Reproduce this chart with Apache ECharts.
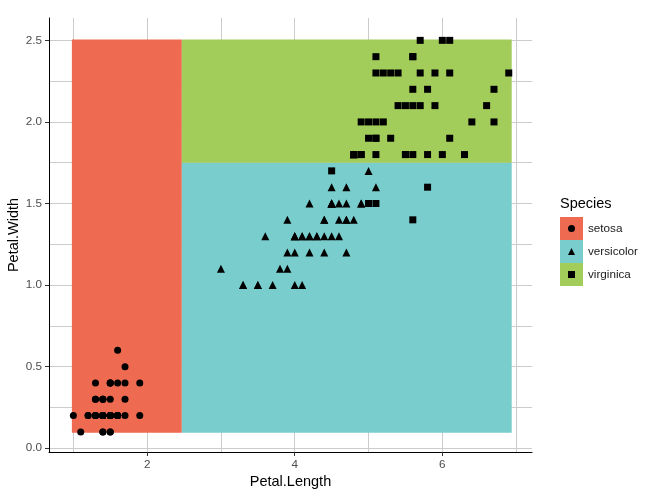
<!DOCTYPE html>
<html>
<head>
<meta charset="utf-8">
<script src="https://cdn.jsdelivr.net/npm/echarts@6/dist/echarts.min.js"></script>
<style>html,body{margin:0;padding:0;background:#fff;}#chart{width:653px;height:498px;}</style>
</head>
<body>
<div id="chart"></div>
<script>
// iris petal measurements, by species
const setosaLength=[1.4,1.4,1.3,1.5,1.4,1.7,1.4,1.5,1.4,1.5,1.5,1.6,1.4,1.1,1.2,1.5,1.3,1.4,1.7,1.5,1.7,1.5,1.0,1.7,1.9,1.6,1.6,1.5,1.4,1.6,1.6,1.5,1.5,1.4,1.5,1.2,1.3,1.4,1.3,1.5,1.3,1.3,1.3,1.6,1.9,1.4,1.6,1.4,1.5,1.4];
const setosaWidth=[0.2,0.2,0.2,0.2,0.2,0.4,0.3,0.2,0.2,0.1,0.2,0.2,0.1,0.1,0.2,0.4,0.4,0.3,0.3,0.3,0.2,0.4,0.2,0.5,0.2,0.2,0.4,0.2,0.2,0.2,0.2,0.4,0.1,0.2,0.2,0.2,0.2,0.1,0.2,0.2,0.3,0.3,0.2,0.6,0.4,0.3,0.2,0.2,0.2,0.2];
const versicolorLength=[4.7,4.5,4.9,4.0,4.6,4.5,4.7,3.3,4.6,3.9,3.5,4.2,4.0,4.7,3.6,4.4,4.5,4.1,4.5,3.9,4.8,4.0,4.9,4.7,4.3,4.4,4.8,5.0,4.5,3.5,3.8,3.7,3.9,5.1,4.5,4.5,4.7,4.4,4.1,4.0,4.4,4.6,4.0,3.3,4.2,4.2,4.2,4.3,3.0,4.1];
const versicolorWidth=[1.4,1.5,1.5,1.3,1.5,1.3,1.6,1.0,1.3,1.4,1.0,1.5,1.0,1.4,1.3,1.4,1.5,1.0,1.5,1.1,1.8,1.3,1.5,1.2,1.3,1.4,1.4,1.7,1.5,1.0,1.1,1.0,1.2,1.6,1.5,1.6,1.5,1.3,1.3,1.3,1.2,1.4,1.2,1.0,1.3,1.2,1.3,1.3,1.1,1.3];
const virginicaLength=[6.0,5.1,5.9,5.6,5.8,6.6,4.5,6.3,5.8,6.1,5.1,5.3,5.5,5.0,5.1,5.3,5.5,6.7,6.9,5.0,5.7,4.9,6.7,4.9,5.7,6.0,4.8,4.9,5.6,5.8,6.1,6.4,5.6,5.1,5.6,6.1,5.6,5.5,4.8,5.4,5.6,5.1,5.1,5.9,5.7,5.2,5.0,5.2,5.4,5.1];
const virginicaWidth=[2.5,1.9,2.1,1.8,2.2,2.1,1.7,1.8,1.8,2.5,2.0,1.9,2.1,2.0,2.4,2.3,1.8,2.2,2.3,1.5,2.3,2.0,2.0,1.8,2.1,1.8,1.8,1.8,2.1,1.6,1.9,2.0,2.2,1.5,1.4,2.3,2.4,1.8,1.8,2.1,2.4,2.3,1.9,2.3,2.5,2.3,1.9,2.0,2.3,1.8];

// classification regions (petal length / width bounds)
const species=['setosa','versicolor','virginica'];
const regionX0=[0.98,2.47,2.47];
const regionX1=[2.47,6.94,6.94];
const regionY0=[0.095,0.095,1.75];
const regionY1=[2.505,1.75,2.505];

// axis ticks
const xLabelTicks=[2,4,6];
const xGridTicks=[1,2,3,4,5,6,7];
const yLabelTicks=[0,0.5,1,1.5,2,2.5];
const yGridTicks=[0,0.25,0.5,0.75,1,1.25,1.5,1.75,2,2.25,2.5];

const regionColors=['#EE6A50','#79CDCD','#A2CD5A'];
const symbols=['circle','triangle','rect'];
const symbolSizes=[7,8,7];
const font='"Liberation Sans", Arial, sans-serif';

const X_MIN=0.67,X_MAX=7.215,Y_MIN=-0.023,Y_MAX=2.637;

const chart=echarts.init(document.getElementById('chart'),null,{renderer:'canvas'});

const pts=[
  setosaLength.map((v,i)=>[v,setosaWidth[i]]),
  versicolorLength.map((v,i)=>[v,versicolorWidth[i]]),
  virginicaLength.map((v,i)=>[v,virginicaWidth[i]])
];

const regionSeries=species.map((s,i)=>({
  type:'custom',name:s,z:1,
  itemStyle:{color:regionColors[i]},
  encode:{x:[0,2],y:[1,3]},
  data:[[regionX0[i],regionY0[i],regionX1[i],regionY1[i]]],
  renderItem:(params,api)=>{
    const p0=api.coord([api.value(0),api.value(3)]);
    const p1=api.coord([api.value(2),api.value(1)]);
    return {type:'rect',shape:{x:p0[0],y:p0[1],width:p1[0]-p0[0],height:p1[1]-p0[1]},
      style:{fill:regionColors[i]}};
  }
}));

const pointSeries=species.map((s,i)=>({
  type:'scatter',name:s+' pts',z:3,
  symbol:symbols[i],symbolSize:symbolSizes[i],
  itemStyle:{color:'#000',opacity:1},
  data:pts[i]
}));

chart.setOption({
  animation:false,
  textStyle:{fontFamily:font},
  title:{text:'Species',left:555,top:191,textStyle:{fontFamily:font,fontSize:14.5,fontWeight:'normal',color:'#000'}},
  legend:[
    {data:species,orient:'vertical',left:555,top:212,icon:'rect',itemWidth:23,itemHeight:23,itemGap:0,
     selectedMode:false,textStyle:{fontFamily:font,fontSize:11.7,color:'#1a1a1a'}},
    {data:species.map(s=>s+' pts'),orient:'vertical',left:563,top:220,itemWidth:7,itemHeight:7,itemGap:16,
     selectedMode:false,formatter:()=>'',textStyle:{fontSize:1}}
  ],
  grid:{left:49,right:121,top:18,bottom:46,outerBoundsMode:'none',containLabel:false},
  xAxis:[
    {type:'value',min:X_MIN,max:X_MAX,name:'Petal.Length',nameLocation:'middle',nameGap:22,nameMoveOverlap:false,
     nameTextStyle:{fontFamily:font,fontSize:14.5,color:'#000'},
     axisLine:{show:true,onZero:false,lineStyle:{color:'#000',width:1}},
     axisTick:{show:true,length:4,customValues:xLabelTicks,lineStyle:{color:'#333'}},
     axisLabel:{customValues:xLabelTicks,margin:7,fontSize:11.7,color:'#4D4D4D',fontFamily:font},
     splitLine:{show:false}},
    {type:'value',min:X_MIN,max:X_MAX,position:'top',
     axisLine:{show:false,onZero:false},axisLabel:{show:false},
     axisTick:{show:false,customValues:xGridTicks},
     splitLine:{show:true,lineStyle:{color:'#CCCCCC',width:1}}}
  ],
  yAxis:[
    {type:'value',min:Y_MIN,max:Y_MAX,name:'Petal.Width',nameLocation:'middle',nameGap:28,nameRotate:90,nameMoveOverlap:false,
     nameTextStyle:{fontFamily:font,fontSize:14.5,color:'#000'},
     axisLine:{show:true,onZero:false,lineStyle:{color:'#000',width:1}},
     axisTick:{show:true,length:4,customValues:yLabelTicks,lineStyle:{color:'#333'}},
     axisLabel:{customValues:yLabelTicks,margin:7,fontSize:11.7,color:'#4D4D4D',fontFamily:font,
       formatter:v=>v.toFixed(1)},
     splitLine:{show:false}},
    {type:'value',min:Y_MIN,max:Y_MAX,position:'right',
     axisLine:{show:false,onZero:false},axisLabel:{show:false},
     axisTick:{show:false,customValues:yGridTicks},
     splitLine:{show:true,lineStyle:{color:'#CCCCCC',width:1}}}
  ],
  series:[...regionSeries,...pointSeries]
});
</script>
</body>
</html>
